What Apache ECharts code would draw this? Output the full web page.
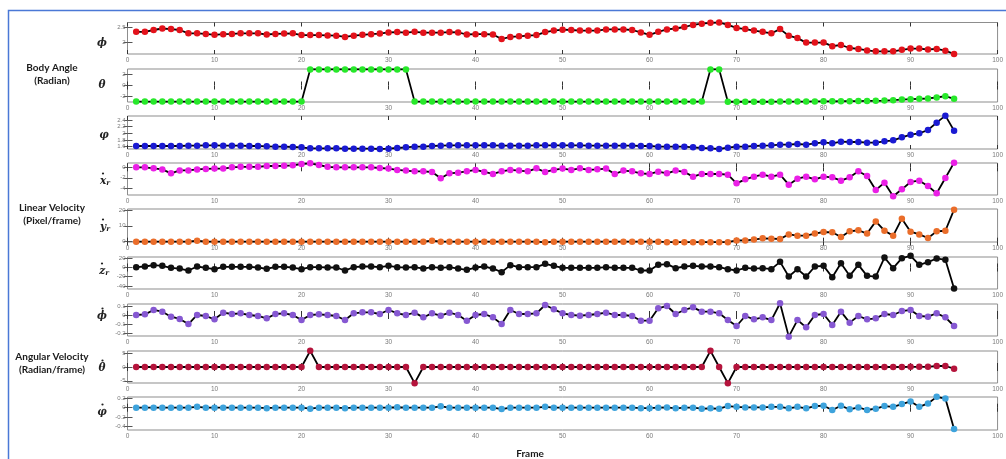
<!DOCTYPE html>
<html>
<head>
<meta charset="utf-8">
<script src="https://cdn.jsdelivr.net/npm/echarts@6/dist/echarts.min.js"></script>
<style>
html,body{margin:0;padding:0;background:#fff;}
#chart{width:1006px;height:459px;}
</style>
</head>
<body>
<div id="chart"></div>
<script>
// ---------- DATA ----------
const frames = [1,2,3,4,5,6,7,8,9,10,11,12,13,14,15,16,17,18,19,20,21,22,23,24,25,26,27,28,29,30,31,32,33,34,35,36,37,38,39,40,41,42,43,44,45,46,47,48,49,50,51,52,53,54,55,56,57,58,59,60,61,62,63,64,65,66,67,68,69,70,71,72,73,74,75,76,77,78,79,80,81,82,83,84,85,86,87,88,89,90,91,92,93,94,95];
const xTicks = [0,10,20,30,40,50,60,70,80,90,100];

const phi = [2.36,2.36,2.42,2.47,2.45,2.42,2.31,2.31,2.29,2.26,2.28,2.29,2.31,2.31,2.31,2.27,2.29,2.30,2.31,2.25,2.25,2.25,2.24,2.23,2.19,2.23,2.26,2.28,2.30,2.34,2.35,2.33,2.36,2.33,2.33,2.33,2.35,2.34,2.27,2.28,2.28,2.27,2.12,2.19,2.21,2.23,2.25,2.35,2.40,2.43,2.42,2.40,2.40,2.40,2.44,2.44,2.44,2.42,2.34,2.26,2.36,2.44,2.47,2.52,2.59,2.63,2.66,2.67,2.59,2.49,2.45,2.40,2.36,2.31,2.45,2.23,2.15,2.00,2.00,2.00,1.88,1.92,1.82,1.79,1.74,1.71,1.71,1.71,1.76,1.80,1.80,1.77,1.79,1.73,1.62];
const theta = [-2.93,-2.93,-2.93,-2.93,-2.93,-2.93,-2.93,-2.93,-2.93,-2.93,-2.93,-2.93,-2.93,-2.93,-2.93,-2.93,-2.93,-2.93,-2.93,-2.93,2.93,2.93,2.93,2.93,2.93,2.93,2.93,2.93,2.93,2.93,2.93,2.93,-2.93,-2.93,-2.93,-2.93,-2.93,-2.93,-2.93,-2.93,-2.93,-2.93,-2.93,-2.93,-2.93,-2.93,-2.93,-2.93,-2.93,-2.93,-2.93,-2.93,-2.93,-2.93,-2.93,-2.93,-2.93,-2.93,-2.93,-2.93,-2.93,-2.93,-2.93,-2.93,-2.93,-2.93,2.93,2.93,-2.95,-2.95,-2.95,-2.95,-2.95,-2.95,-2.93,-2.93,-2.92,-2.92,-2.90,-2.88,-2.87,-2.86,-2.85,-2.83,-2.80,-2.78,-2.74,-2.67,-2.55,-2.48,-2.42,-2.36,-2.18,-1.94,-2.42];
const varphi = [1.62,1.62,1.62,1.62,1.62,1.62,1.63,1.63,1.64,1.64,1.63,1.63,1.63,1.62,1.62,1.61,1.60,1.60,1.59,1.58,1.55,1.55,1.55,1.55,1.54,1.54,1.54,1.54,1.53,1.54,1.56,1.58,1.60,1.60,1.62,1.63,1.64,1.64,1.64,1.64,1.64,1.64,1.63,1.63,1.63,1.63,1.64,1.64,1.64,1.64,1.64,1.64,1.63,1.63,1.63,1.63,1.63,1.63,1.62,1.62,1.60,1.60,1.60,1.60,1.58,1.56,1.55,1.53,1.57,1.60,1.60,1.62,1.63,1.64,1.66,1.66,1.68,1.66,1.70,1.73,1.70,1.75,1.74,1.74,1.72,1.72,1.76,1.79,1.88,1.96,2.00,2.10,2.32,2.53,2.08];
const xDot = [0,0,-0.2,-0.4,-1.15,-0.6,-0.6,-0.4,-0.3,-0.25,-0.25,0,0.1,0.1,0.1,0.25,0.25,0.3,0.38,0.63,0.76,0.44,0.1,0,0,0,0,0,-0.13,-0.25,-0.5,-0.63,-0.76,-0.76,-0.89,-2.1,-1.14,-1.02,-0.76,-0.5,-0.89,-1.27,-0.76,-0.5,-0.63,-0.76,-0.19,-0.89,-0.5,-0.25,-0.5,-0.19,-0.5,-0.38,-0.25,-1.27,-0.63,-0.76,-1.14,-1.27,-0.83,-1.14,-0.63,-0.89,-1.78,-1.27,-1.27,-1.27,-1.4,-3.05,-2.29,-1.78,-1.4,-1.78,-1.4,-3.3,-2.16,-1.78,-2.29,-1.78,-1.9,-2.54,-1.9,-0.76,-1.65,-4.32,-2.92,-5.5,-4.19,-2.79,-2.54,-3.56,-4.95,-2.03,0.89];
const yDot = [0,0,0,0,0,0,0,0.6,0,0,0,0,0,0,0,0,0,0,0,0,0,0,0,0,0,0,0,0,0,0,0,0,0,0,0.6,0,0,0,0,0,0,0,0,0,0,0,0,-0.4,0,0,0,0,0,0,0,0,0,0,0,0,0,-0.3,-0.3,-0.3,-0.3,-0.3,-0.3,-0.3,-0.3,0.8,0.8,1.3,2.1,1.9,1.7,4.6,3.8,3.8,5.1,6.1,5.9,2.9,6.5,7.2,5.1,12.8,6.9,3.8,14.5,6.3,4.6,2.3,6.5,6.9,20.2];
const zDot = [0.7,2.2,5.1,3.6,-0.7,-2.2,-6.5,2.2,-0.7,-3.6,1.4,1.4,1.4,1.4,0,-2.9,1.4,1.4,0,-3.6,0.7,0.7,0,0,-6.5,0.7,2.2,2.2,0.7,3.6,0.7,0,0.7,-2.2,0.7,-0.7,0.7,-2.2,-5.1,0,2.2,-2.2,-10.1,5.1,0.7,0.7,0.7,8,3.6,-0.7,-0.7,-0.7,-0.7,-0.7,0.7,-0.7,-0.7,-0.7,-6.5,-6.5,5.8,7.2,-1.4,2.2,3.6,2.2,2.2,0.7,-3.6,-6.5,-0.7,-2.2,-1.4,-3.6,12.3,-19.6,-3.6,-19.6,2.2,3.6,-21,9.4,-18.1,5.8,-18.1,-19.6,21.7,-1.4,20.3,25.4,5.8,11.6,19.6,16.7,-45.7];
const phiDot = [0,0.007,0.056,0.037,-0.019,-0.044,-0.1,0,-0.011,-0.048,0.026,0.011,0.019,0,-0.011,-0.037,0.011,0.019,0,-0.056,0,0.007,0,-0.011,-0.056,0.019,0.03,0.03,0.011,0.056,0.019,0,0.026,-0.026,0.019,-0.007,0.026,0,-0.063,0,0.011,-0.026,-0.1,0.056,0.011,0.011,0.019,0.111,0.063,0.019,0,-0.007,0,0.011,0.026,0,0,-0.011,-0.063,-0.063,0.074,0.1,0.011,0.056,0.085,0.037,0.037,0.019,-0.056,-0.122,-0.011,-0.048,-0.026,-0.056,0.13,-0.24,-0.056,-0.137,0,0.011,-0.111,0.037,-0.085,-0.011,-0.048,-0.037,0.011,0,0.044,0.056,-0.011,-0.019,0.019,-0.026,-0.122];
const thetaDot = [0,0,0,0,0,0,0,0,0,0,0,0,0,0,0,0,0,0,0,0,5.86,0,0,0,0,0,0,0,0,0,0,0,-5.86,0,0,0,0,0,0,0,0,0,0,0,0,0,0,0,0,0,0,0,0,0,0,0,0,0,0,0,0,0,0,0,0,0,5.86,0,-5.86,0,0,0,0,0,0,0,0,0,0,0,0,0,0,0,0,0,0,0,0,0.05,0.06,0.06,0.36,0.36,-0.6];
const varphiDot = [0,0,0,0,0,0,0,0.02,0,0,0,0,0,0,0,-0.01,0,0,0,0,-0.02,0,0,0,-0.01,0,0,0,0,0,0.01,0,0,0,0,0.03,0,0,0,0,0,0,-0.03,0,0,0,0,0.02,0,0,0,0,0,0,0,0,0,0,-0.01,-0.01,0,0.007,-0.014,0,0,-0.02,-0.014,-0.02,0.036,0.02,0.007,0.007,0.007,0.02,0.02,-0.014,0.02,-0.014,0.036,0.043,-0.05,0.043,-0.036,0.007,-0.05,-0.02,0.036,0.02,0.08,0.136,0.02,0.093,0.236,0.2,-0.464];

const yTicks = [[2,2.5],[-2,0,2],[1.6,1.8,2,2.2,2.4],[-4,-2,0],[0,10,20],[-40,-20,0,20],[-0.2,-0.1,0,0.1],[-5,0,5],[-0.4,-0.2,0,0.2]];
const seriesValues = [phi,theta,varphi,xDot,yDot,zDot,phiDot,thetaDot,varphiDot];
const symbolLabels = ['ϕ','θ','φ','x','y','z','ϕ','θ','φ'];
const symbolDots = [false,false,false,true,true,true,true,true,true];
const symbolSubs = ['','','','r','r','r','','',''];
const groupLabels = [['Body Angle','(Radian)'],['Linear Velocity','(Pixel/frame)'],['Angular Velocity','(Radian/frame)']];

// ---------- LAYOUT / STYLE ----------
const rows = [
  {top:22.5,h:31.5,min:1.62,max:2.67},
  {top:69,h:33,min:-3,max:3},
  {top:116,h:33,min:1.53,max:2.52},
  {top:163,h:32,min:-5.27,max:0.82},
  {top:209,h:33,min:-0.2,max:20.6},
  {top:257,h:32,min:-46.6,max:22.8},
  {top:304,h:32,min:-0.233,max:0.122},
  {top:351,h:32,min:-5.8,max:5.8},
  {top:397,h:33,min:-0.485,max:0.233}
];
const colors = ['#e3121b','#27e82a','#1a1ad2','#ea1fe6','#ea6d2a','#111111','#8658d2','#b5143c','#3ea3dc'];
const symPos = [[102,43],[102,85],[104,135],[105,181],[105,227],[104,271],[102,316],[102,368],[102,412]];
const gridLeft = 127.5, gridRight = 5.5;

const grids=[], xAxes=[], yAxes=[], series=[];
rows.forEach((r,i)=>{
  grids.push({left:gridLeft,right:gridRight,top:r.top,height:r.h,show:true,borderColor:'#8d8d8d',borderWidth:1,backgroundColor:'transparent'});
  const baseX = {gridIndex:i,type:'value',min:0,max:100,interval:10,splitLine:{show:false},axisLine:{show:false}};
  xAxes.push(Object.assign({},baseX,{position:'bottom',
    axisTick:{show:true,inside:true,length:4,lineStyle:{color:'#333',width:1}},
    axisLabel:{show:true,fontSize:6.5,color:'#7a7a7a',margin:3,fontFamily:'Liberation Sans'}}));
  xAxes.push(Object.assign({},baseX,{position:'top',
    axisTick:{show:true,inside:true,length:4,lineStyle:{color:'#333',width:1}},
    axisLabel:{show:false}}));
  const baseY = {gridIndex:i,type:'value',min:r.min,max:r.max,splitLine:{show:false},axisLine:{show:false}};
  yAxes.push(Object.assign({},baseY,{position:'left',
    axisTick:{show:true,inside:true,length:5,customValues:yTicks[i],lineStyle:{color:'#555'}},
    axisLabel:{show:true,customValues:yTicks[i],fontSize:6,color:'#7a7a7a',margin:2,fontFamily:'Liberation Sans'}}));
  yAxes.push(Object.assign({},baseY,{position:'right',
    axisTick:{show:true,inside:true,length:4,customValues:yTicks[i],lineStyle:{color:'#555'}},
    axisLabel:{show:false}}));
  series.push({
    type:'line', xAxisIndex:2*i, yAxisIndex:2*i,
    data: frames.map((f,k)=>[f, seriesValues[i][k]]),
    symbol:'circle', symbolSize:6.5, showSymbol:true, clip:false,
    lineStyle:{color:'#000',width:1.8},
    itemStyle:{color:colors[i],borderWidth:0},
    emphasis:{disabled:true}, animation:false
  });
});

const graphics = [];
graphics.push({type:'rect',shape:{x:8.5,y:10.5,width:1010,height:470},style:{fill:'none',stroke:'#4a78d6',lineWidth:1.5},silent:true});
const symFont = {fontFamily:'DejaVu Serif',fontStyle:'italic',fontWeight:'bold',fill:'#222'};
symbolLabels.forEach((s,i)=>{
  const sub = symbolSubs[i];
  graphics.push({type:'text',x:symPos[i][0],y:symPos[i][1],style:Object.assign({
    text: sub ? '{a|'+s+'}{b|'+sub+'}' : '{a|'+s+'}',
    rich:{a:Object.assign({fontSize:10.5},symFont),
          b:Object.assign({fontSize:7,padding:[5,0,0,0]},symFont)},
    align:'center',verticalAlign:'middle'},{})});
  if (symbolDots[i]) {
    const dx = sub ? -2 : 0.5;
    graphics.push({type:'circle',shape:{cx:symPos[i][0]+dx,cy:symPos[i][1]-7.5,r:1.1},style:{fill:'#222'},silent:true});
  }
});
const gPos = [[52,68],[52,208],[52,357]];
groupLabels.forEach((g,i)=>{
  g.forEach((t,j)=>{
    graphics.push({type:'text',x:gPos[i][0],y:gPos[i][1]+j*13,style:{text:t,fontFamily:'Lato',fontWeight:'bold',fontSize:10,fill:'#1a1a1a',align:'center',verticalAlign:'middle'}});
  });
});
graphics.push({type:'text',x:530,y:454,style:{text:'Frame',fontFamily:'Lato',fontWeight:'bold',fontSize:10,fill:'#1a1a1a',align:'center',verticalAlign:'middle'}});

const chart = echarts.init(document.getElementById('chart'),null,{renderer:'canvas'});
chart.setOption({
  animation:false,
  backgroundColor:'#ffffff',
  grid:grids, xAxis:xAxes, yAxis:yAxes, series:series,
  graphic:graphics
});
</script>
</body>
</html>
